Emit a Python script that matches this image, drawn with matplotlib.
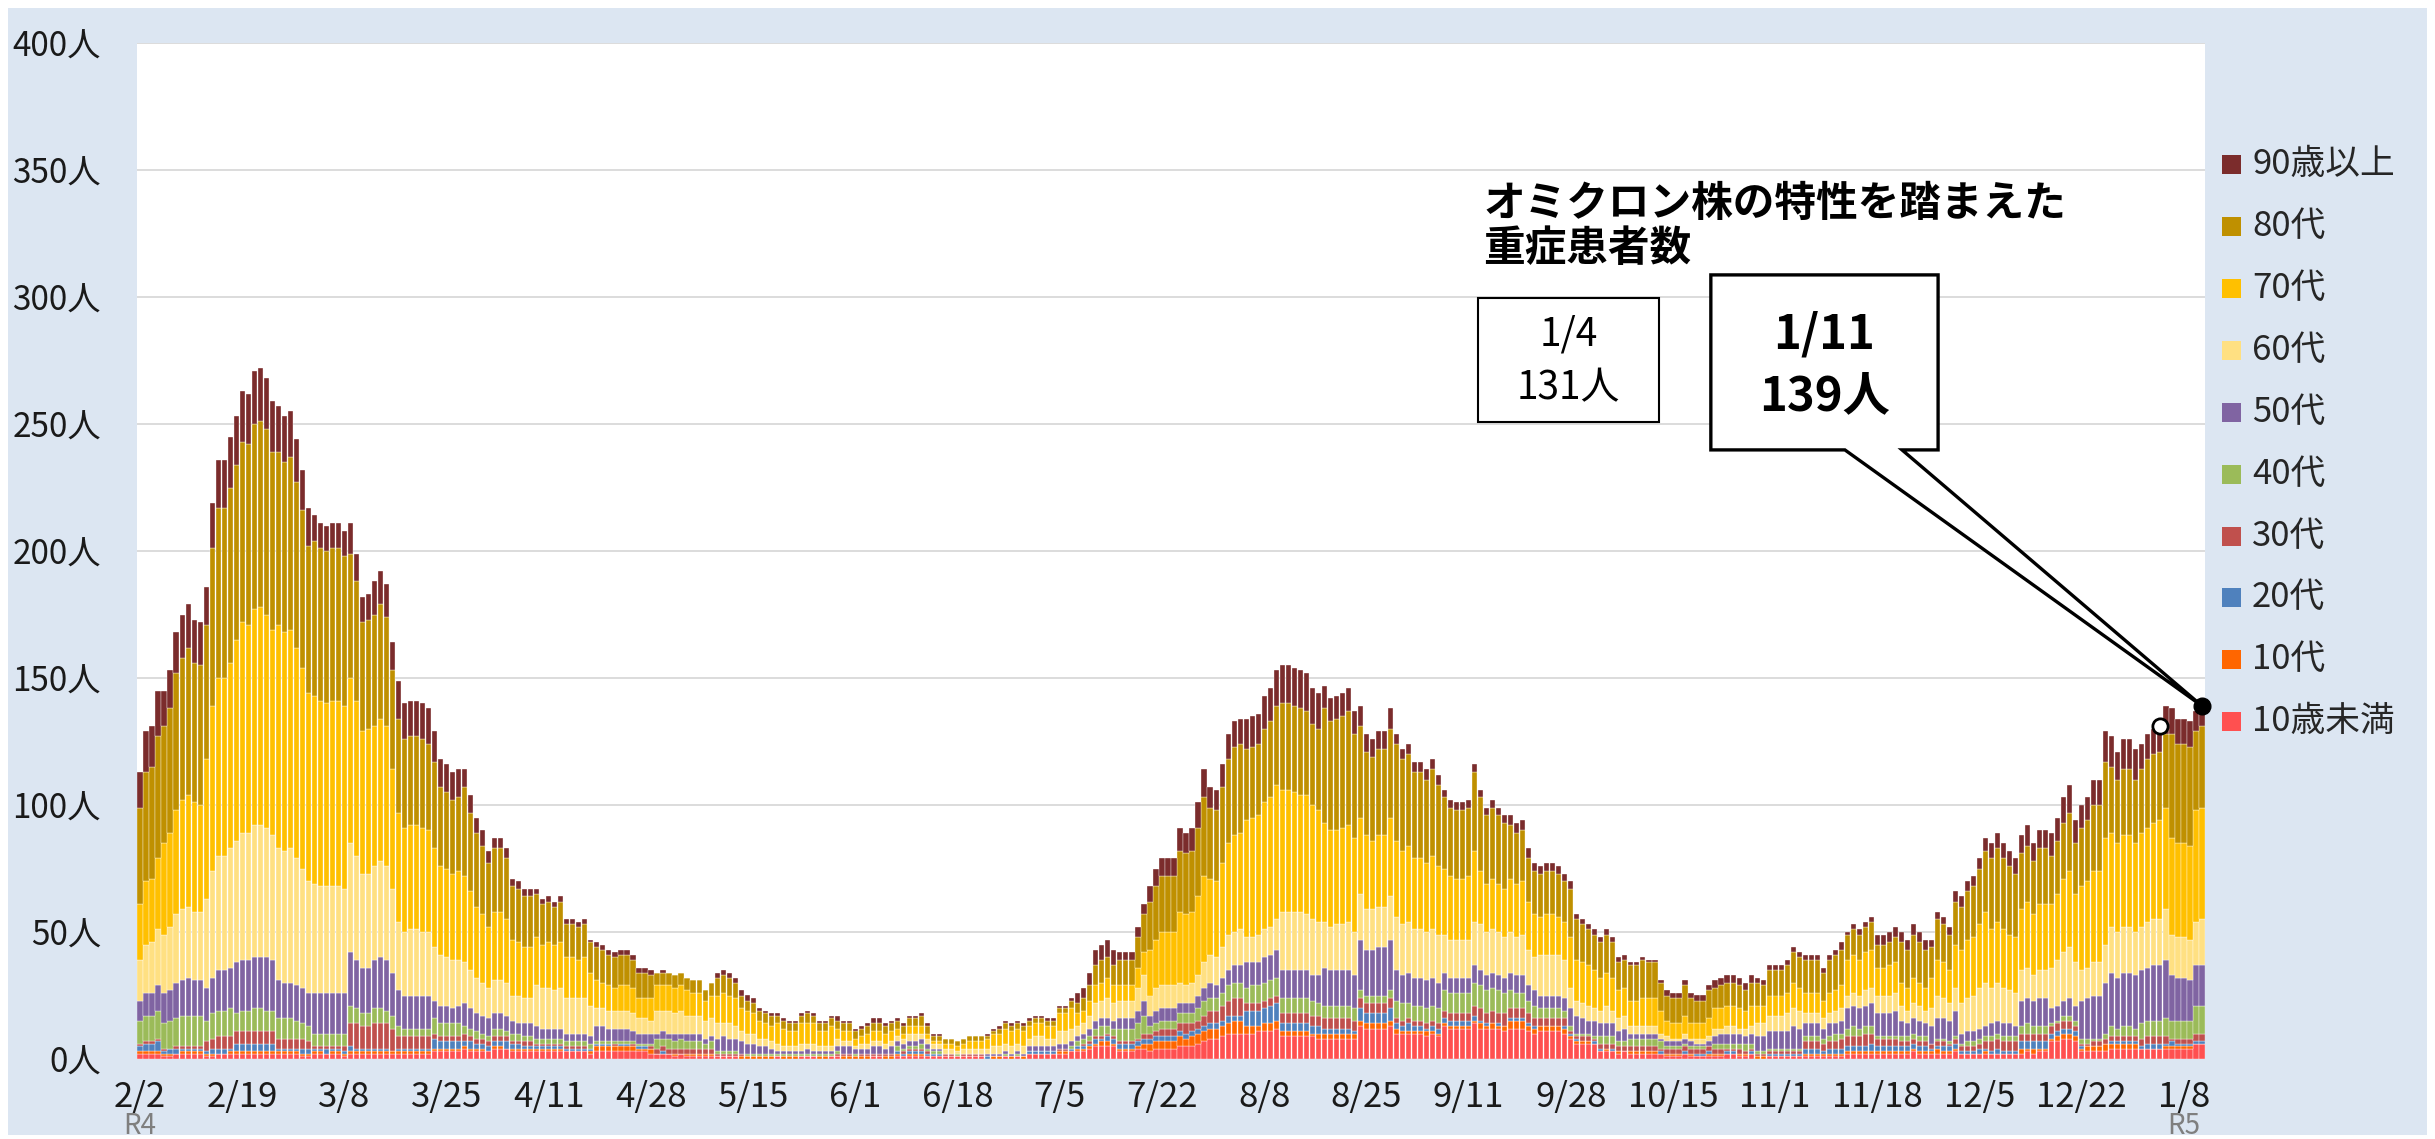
import datetime
import numpy as np
import matplotlib
matplotlib.use('Agg')
import matplotlib.pyplot as plt
from matplotlib.patches import Rectangle, Polygon

plt.rcParams['font.family'] = ['Noto Sans CJK JP', 'DejaVu Sans']

# 日別の重症患者数 (2022/2/2 ~ 2023/1/11)
totals = [
    113, 129, 131, 145, 145, 153, 168, 175, 179, 173,
    172, 186, 219, 236, 236, 245, 253, 263, 262, 271,
    272, 268, 259, 257, 253, 255, 244, 232, 217, 214,
    211, 210, 211, 211, 208, 211, 199, 182, 183, 188,
    192, 187, 164, 149, 140, 141, 141, 140, 138, 129,
    118, 116, 113, 114, 114, 104, 95, 90, 82,
    87, 87, 83, 71, 70, 67, 67, 67, 63, 64,
    62, 64, 55, 55, 54, 55, 47, 46, 45, 43,
    42, 43, 43, 41, 36, 36, 35, 34, 35, 34,
    33, 34, 32, 31, 31, 27, 30, 34, 35, 34,
    32, 27, 25, 24, 20, 19, 18, 18, 16, 15,
    15, 18, 19, 18, 15, 15, 17,
    17, 15, 15, 12, 13, 14, 16, 16, 14, 15,
    16, 14, 17, 17, 18, 14, 10, 10, 8, 8,
    7, 8, 9, 9, 9, 10, 12, 13, 15, 14,
    15, 14, 16, 17, 17, 16, 16, 21, 21, 24,
    26, 28, 34, 43, 45, 47, 43, 42, 42, 42,
    52, 61, 68, 75, 79, 79,
    79, 91, 89, 91, 101, 114, 107, 106, 116, 128,
    133, 134, 134, 135, 136, 143, 146, 153, 155, 155,
    154, 153, 152, 146, 144, 147, 142, 143, 144, 146,
    137, 139, 128, 126, 129, 129, 138, 128, 122, 124,
    117, 117, 114, 118, 112, 106, 102, 101, 101, 102,
    116, 106, 99, 102, 99, 96, 96, 93, 94,
    83, 77, 76, 77, 77, 76, 73, 70, 57, 55,
    53, 51, 48, 51, 48, 40, 41, 38, 38, 40,
    39, 39, 31, 27, 26, 26, 31, 26, 25, 25,
    29, 31, 32, 33, 33, 32, 30, 33, 32, 31,
    37, 37, 37, 39, 44, 42, 41, 41, 41, 36,
    41, 43, 46, 50, 53, 51, 54,
    56, 49, 49, 50, 52, 50, 47, 53, 50, 47,
    47, 58, 56, 52, 66, 64, 70, 72, 79, 87,
    85, 89, 85, 82, 79, 88, 92, 85, 90, 90,
    89, 95, 103, 108, 94, 100, 103, 110, 110, 129,
    127, 121, 126, 126, 122, 124, 128, 130, 131, 139,
    138, 134, 134, 133, 137, 139,
]

# 年代別の内訳 : 目視で読んだ日 (sample_days) の各帯の高さ
sample_days = [0, 7, 13, 18, 26, 31, 37, 40, 45, 51, 56, 60, 70, 80, 90, 100,
               110, 120, 130, 136, 145, 150, 160, 165, 170, 175, 180, 187, 192,
               200, 205, 212, 220, 225, 230, 235, 240, 245, 250, 257, 265, 272,
               280, 286, 290, 295, 300, 305, 310, 315, 320, 325, 330, 335, 340, 343]
age_under10 = [2, 1.6, 1.5, 2, 1.5, 1.5, 2, 2, 1.5, 3, 3, 3.8, 3, 3, 1.5, 0.5, 0.5, 0.5, 1.5, 0.8,
               0.5, 2, 5, 3, 4, 5, 9, 11, 9, 8, 12, 9.5, 12, 12, 12, 11, 6, 3, 2.5, 1.5,
               1.5, 0.5, 1, 1.7, 1.7, 2.6, 2.4, 1.7, 1.7, 2.4, 7.6, 3, 4.3, 3.7, 4, 5.6]
age_10s = [1, 1, 1, 1, 1, 1, 1, 1, 1, 1, 1, 0.8, 1, 2, 0.5, 0.5, 0.3, 0.3, 0.5, 0.2,
           0.2, 0.5, 1.5, 1, 3, 3, 4, 3, 2, 2, 2, 1.3, 1, 1.5, 3, 2, 1, 0.5, 0.5, 0.3,
           0.5, 0.5, 0.5, 1.3, 1.3, 1, 1, 0.5, 0.5, 1.3, 2, 2, 2, 0.7, 1, 0.5]
age_20s = [3, 1.5, 1.5, 3, 1.5, 1, 1, 1, 1.5, 3, 2, 2.4, 1, 0.5, 0.5, 0.3, 0.1, 0.5, 1, 0.2,
           0.2, 0.5, 1.5, 1.5, 2, 2, 2, 6, 3, 2, 4, 2, 2, 0.5, 1, 0.5, 0.5, 0.3, 0.5, 1,
           0.5, 0.5, 2, 2, 2, 2, 1.7, 1.3, 1.3, 3, 2, 0.5, 0.7, 1.3, 1.3, 1]
age_30s = [1, 1, 5, 5, 4, 1.5, 8.5, 10, 4.5, 2, 2, 2, 1, 0.5, 2, 0.5, 0.1, 0.5, 1, 0.3,
           0.3, 0.3, 1, 1, 3, 3, 6, 3, 4, 4, 4, 2, 3, 5, 4, 3, 1.5, 2, 2, 2,
           1.3, 1, 2.5, 4, 2.6, 2, 1.6, 2, 4, 3, 3, 1.5, 2, 3, 1.3, 3]
age_40s = [10, 12, 10, 8, 7, 5, 5.5, 6, 3.5, 5, 3, 3, 2, 1, 3, 1, 1, 0.5, 2, 0.3,
           0.3, 0.3, 3, 5, 3, 4, 5, 7, 6, 5, 3, 6, 8, 9, 6, 4, 1, 3, 3, 1,
           2.5, 1, 2, 3, 1.3, 2, 1, 1.6, 2, 3, 2, 1.5, 4, 6, 7, 11]
age_50s = [9, 14, 16, 20, 14, 16, 18, 20, 12.5, 7, 7, 6, 4, 5, 3, 5, 1, 2.5, 2, 0.2,
           1, 1.5, 3, 4, 5, 4, 6, 10, 11, 14, 18, 11, 6, 6, 7, 5, 6, 5, 2, 2,
           3.5, 7, 4, 8, 9, 6, 8, 4, 5, 10, 6, 17, 21, 22, 17, 16]
age_60s = [19, 28, 45, 50, 50, 42, 37, 38, 25, 19, 14, 13, 16, 7, 8, 5, 2, 2, 3, 1.5,
           3, 4, 7, 7, 9, 7, 12, 11, 23, 18, 16, 19, 15, 17, 16, 16, 6, 6, 3, 2,
           3, 6, 4, 5, 7, 6, 8, 14, 14, 11, 19, 13, 18, 18, 16, 18]
age_70s = [25, 43, 70, 82, 83, 72, 56, 56, 40, 35, 28, 26.5, 18, 10, 10, 11, 7, 4, 3, 2,
           6, 6, 7, 6, 21, 26, 33, 49, 47, 38, 28, 28, 24, 20, 21, 16, 16, 13, 11, 7,
           8, 8, 7, 14, 11, 10, 14, 23, 23, 24, 29, 37, 37, 38, 37, 44]
age_80s = [43, 56, 67, 71, 65, 60, 43, 45, 34, 30, 29, 25.5, 16, 12, 5, 6, 3, 3, 4, 1.5,
           2, 2, 8, 10, 22, 23, 30, 29, 34, 44, 33, 34, 27, 28, 20, 17, 15, 14, 15, 12,
           9, 10, 11, 10, 9, 17, 15, 20, 28, 21, 22, 26, 26, 27, 39, 32]
age_90plus = [16, 17, 19, 20, 17, 10, 10, 13, 14, 11, 6, 4, 2, 2, 0.5, 2, 1, 1.5, 1, 0.3,
              0.8, 1, 6, 3, 7, 8, 9, 13, 15, 9, 7, 4, 3, 3, 4, 3, 2, 2, 1, 2,
              3, 2, 2, 1.5, 4, 4, 3, 4, 6, 7, 10, 10, 12, 10, 10, 8]

labels = ['10歳未満', '10代', '20代', '30代', '40代', '50代', '60代', '70代', '80代', '90歳以上']
colors = ['#FF5050', '#FF6600', '#4F81BD', '#C0504D', '#9BBB59',
          '#8064A2', '#FFE082', '#FFC000', '#BF9000', '#7B2C2C']

start = datetime.date(2022, 2, 2)
n = len(totals)
x = np.arange(n)
totals = np.array(totals)

# 各日 -> 一番近いサンプル日の構成比で年代別に分ける
bands = np.array([age_under10, age_10s, age_20s, age_30s, age_40s,
                  age_50s, age_60s, age_70s, age_80s, age_90plus])
shares = bands / bands.sum(axis=0)
nearest = np.abs(x[:, None] - np.array(sample_days)[None, :]).argmin(axis=1)
cum = np.vstack([np.zeros(n), np.round(np.cumsum(shares[:, nearest], axis=0) * totals)])
counts = np.diff(cum, axis=0)

W, H = 2435, 1139
fig = plt.figure(figsize=(W / 100, H / 100), dpi=100)
fig.patch.set_facecolor('white')
fig.patches.append(Rectangle((8 / W, 4 / H), (W - 16) / W, (H - 12) / H,
                             transform=fig.transFigure, facecolor='#DCE6F2',
                             edgecolor='none', zorder=-10))

ax = fig.add_axes([137 / W, 80 / H, (2205 - 137) / W, (1096 - 80) / H])
ax.set_facecolor('white')

bottom = np.zeros(n)
for vals, color in zip(counts, colors):
    ax.bar(x, vals, width=0.86, bottom=bottom, color=color,
           edgecolor='white', linewidth=0.25, zorder=2)
    bottom += vals

ax.set_xlim(-0.5, n - 0.5)
ax.set_ylim(0, 400)
ax.set_yticks(range(0, 401, 50))
ax.set_yticklabels([f'{v}人' for v in range(0, 401, 50)], fontsize=24, color='#1A1A1A')
ax.yaxis.grid(True, color='#D9D9D9', linewidth=1.3, zorder=0)
ax.set_axisbelow(True)

ticks = list(range(0, n, 17))
tick_labels = []
for t in ticks:
    d = start + datetime.timedelta(days=t)
    tick_labels.append(f'{d.month}/{d.day}')
ax.set_xticks(ticks)
ax.set_xticklabels(tick_labels, fontsize=25, color='#1A1A1A')
ax.tick_params(axis='both', length=0)
ax.tick_params(axis='y', pad=26)
ax.tick_params(axis='x', pad=15)
for s in ax.spines.values():
    s.set_visible(False)

xt = ax.get_xaxis_transform()
ax.text(ticks[0], -0.066, 'R4', transform=xt, ha='center', va='center', fontsize=20, color='#7F7F7F')
ax.text(ticks[-1], -0.066, 'R5', transform=xt, ha='center', va='center', fontsize=20, color='#7F7F7F')

# 凡例 (右側)
for i, (lab, col) in enumerate(zip(labels[::-1], colors[::-1])):
    yp = 164.6 + i * 61.9
    fig.patches.append(Rectangle((2222 / W, 1 - (yp + 9.5) / H), 19 / W, 19 / H,
                                 transform=fig.transFigure, facecolor=col, edgecolor='none'))
    fig.text(2252 / W, 1 - yp / H, lab, ha='left', va='center', fontsize=25, color='#262626')

# 注記
ax.text(223.4, 345, 'オミクロン株の特性を踏まえた\n重症患者数', ha='left', va='top',
        fontsize=30, fontweight='bold', linespacing=1.1, zorder=5)

ax.add_patch(Rectangle((222.5, 250.8), 30.1, 48.8, facecolor='white',
                       edgecolor='black', linewidth=1.5, zorder=5))
ax.text(237.6, 285.4, '1/4', ha='center', va='center', fontsize=28, zorder=6)
ax.text(237.6, 264.2, '131人', ha='center', va='center', fontsize=28, zorder=6)

tip = (x[-1], totals[-1])
callout = [(261.3, 308.7), (299.1, 308.7), (299.1, 239.8), (293.1, 239.8), tip,
           (283.6, 239.8), (261.3, 239.8)]
ax.add_patch(Polygon(callout, closed=True, facecolor='white', edgecolor='black',
                     linewidth=2.4, joinstyle='miter', zorder=5, clip_on=False))
ax.text(280.2, 285.4, '1/11', ha='center', va='center', fontsize=34, fontweight='bold', zorder=6)
ax.text(280.2, 261.0, '139人', ha='center', va='center', fontsize=34, fontweight='bold', zorder=6)

ax.plot(336, totals[336], 'o', markersize=11, markerfacecolor='white',
        markeredgecolor='black', markeredgewidth=2, zorder=7, clip_on=False)
ax.plot(tip[0], tip[1], 'o', markersize=12, color='black', zorder=7, clip_on=False)

fig.savefig('out.png', dpi=100, facecolor=fig.get_facecolor())
